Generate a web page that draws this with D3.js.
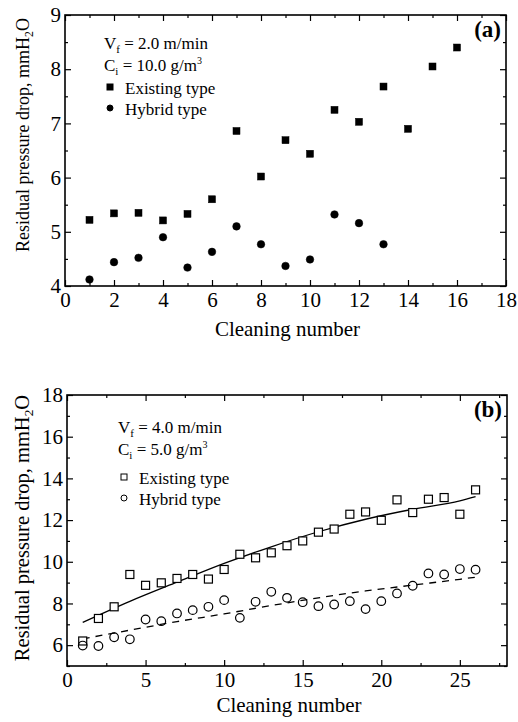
<!DOCTYPE html>
<html>
<head>
<meta charset="utf-8">
<script src="https://cdn.jsdelivr.net/npm/d3@7/dist/d3.min.js"></script>
<style>
  body { margin: 0; background: #fff; }
  svg { display: block; font-family: "Liberation Serif", "Times New Roman", serif; }
</style>
</head>
<body>
<svg></svg>
<script>
// ---- data, panel (a) ----
const cyclesA_existing = [1, 2, 3, 4, 5, 6, 7, 8, 9, 10, 11, 12, 13, 14, 15, 16];
const existingA = [5.22, 5.34, 5.35, 5.21, 5.33, 5.60, 6.86, 6.02, 6.69, 6.44, 7.25, 7.03, 7.68, 6.90, 8.05, 8.40];
const cyclesA_hybrid = [1, 2, 3, 4, 5, 6, 7, 8, 9, 10, 11, 12, 13];
const hybridA = [4.12, 4.44, 4.52, 4.90, 4.34, 4.63, 5.10, 4.77, 4.37, 4.49, 5.32, 5.16, 4.77];
const xTicksA = [0, 2, 4, 6, 8, 10, 12, 14, 16, 18];
const yTicksA = [4, 5, 6, 7, 8, 9];

// ---- data, panel (b) ----
const cyclesB = [1, 2, 3, 4, 5, 6, 7, 8, 9, 10, 11, 12, 13, 14, 15, 16, 17, 18, 19, 20, 21, 22, 23, 24, 25, 26];
const existingB = [6.20, 7.28, 7.84, 9.39, 8.87, 8.99, 9.20, 9.39, 9.17, 9.63, 10.36, 10.19, 10.43,
                   10.77, 11.00, 11.42, 11.57, 12.28, 12.39, 11.99, 12.97, 12.36, 13.00, 13.08, 12.28, 13.45];
const hybridB = [5.98, 5.96, 6.38, 6.28, 7.23, 7.15, 7.52, 7.68, 7.84, 8.16, 7.31, 8.08, 8.56,
                 8.27, 8.06, 7.87, 7.95, 8.11, 7.73, 8.11, 8.48, 8.85, 9.44, 9.39, 9.65, 9.62];
// fitted trend lines
const fitX = [1, 4, 7, 10, 13, 16, 19, 22, 25, 26];
const fitExisting = [7.09, 8.10, 9.02, 9.92, 10.72, 11.44, 12.04, 12.52, 12.92, 13.12];
const fitHybrid = [6.30, 6.72, 7.13, 7.50, 7.90, 8.27, 8.60, 8.88, 9.16, 9.26];
const xTicksB = [0, 5, 10, 15, 20, 25];
const yTicksB = [6, 8, 10, 12, 14, 16, 18];

const width = 518, height = 722;
const svg = d3.select("svg").attr("width", width).attr("height", height);

function panel(o) {
  const g = svg.append("g");
  const x = d3.scaleLinear().domain(o.xDomain).range([o.left, o.right]);
  const y = d3.scaleLinear().domain(o.yDomain).range([o.bottom, o.top]);
  const fmt = d3.format("d");

  const style = (sel) => sel
    .attr("font-family", "Liberation Serif")
    .attr("font-size", 21)
    .call(s => s.select(".domain").remove())
    .call(s => s.selectAll(".tick line").attr("stroke-width", 1.2));

  // minor ticks (all four sides, inward)
  g.append("g").attr("transform", `translate(0,${o.bottom})`)
    .call(d3.axisBottom(x).tickValues(o.xMinor).tickSize(-3).tickFormat("")).call(style);
  g.append("g").attr("transform", `translate(0,${o.top})`)
    .call(d3.axisTop(x).tickValues(o.xMinor).tickSize(-3).tickFormat("")).call(style);
  g.append("g").attr("transform", `translate(${o.left},0)`)
    .call(d3.axisLeft(y).tickValues(o.yMinor).tickSize(-3).tickFormat("")).call(style);
  g.append("g").attr("transform", `translate(${o.right},0)`)
    .call(d3.axisRight(y).tickValues(o.yMinor).tickSize(-3).tickFormat("")).call(style);

  // major ticks
  g.append("g").attr("transform", `translate(0,${o.bottom})`)
    .call(d3.axisBottom(x).tickValues(o.xTicks).tickSize(-6).tickPadding(6).tickFormat(fmt)).call(style);
  g.append("g").attr("transform", `translate(0,${o.top})`)
    .call(d3.axisTop(x).tickValues(o.xTicks).tickSize(-6).tickFormat("")).call(style);
  g.append("g").attr("transform", `translate(${o.left},0)`)
    .call(d3.axisLeft(y).tickValues(o.yTicks).tickSize(-6).tickPadding(4).tickFormat(fmt)).call(style);
  g.append("g").attr("transform", `translate(${o.right},0)`)
    .call(d3.axisRight(y).tickValues(o.yTicks).tickSize(-6).tickFormat("")).call(style);

  // frame
  g.append("rect")
    .attr("x", o.left).attr("y", o.top)
    .attr("width", o.right - o.left).attr("height", o.bottom - o.top)
    .attr("fill", "none").attr("stroke", "#000").attr("stroke-width", 1.6);

  // fitted lines
  const line = d3.line().x(d => x(d[0])).y(d => y(d[1])).curve(d3.curveMonotoneX);
  (o.fits || []).forEach(f => {
    g.append("path")
      .datum(f.xs.map((v, i) => [v, f.ys[i]]))
      .attr("d", line)
      .attr("fill", "none").attr("stroke", "#000").attr("stroke-width", 1.3)
      .attr("stroke-dasharray", f.dash || null);
  });

  // markers
  const fill = o.filled ? "#000" : "#fff";
  const sq = o.filled ? 7 : 8;
  g.append("g").selectAll("rect")
    .data(o.existX.map((v, i) => [v, o.existY[i]]))
    .join("rect")
    .attr("x", d => x(d[0]) - sq / 2).attr("y", d => y(d[1]) - sq / 2)
    .attr("width", sq).attr("height", sq)
    .attr("fill", fill).attr("stroke", "#000").attr("stroke-width", o.filled ? 0.5 : 1.2);
  g.append("g").selectAll("circle")
    .data(o.hybX.map((v, i) => [v, o.hybY[i]]))
    .join("circle")
    .attr("cx", d => x(d[0])).attr("cy", d => y(d[1]))
    .attr("r", o.filled ? 3.8 : 4.3)
    .attr("fill", o.filled ? "#000" : "none").attr("stroke", "#000").attr("stroke-width", o.filled ? 0.5 : 1.2);

  // axis titles
  g.append("text")
    .attr("x", (o.left + o.right) / 2 + 2).attr("y", o.bottom + o.xlabelOffset)
    .attr("text-anchor", "middle").attr("font-size", 21)
    .text("Cleaning number");
  const yl = g.append("text")
    .attr("transform", `translate(29,${o.ylabelY}) rotate(-90)`)
    .attr("text-anchor", "middle").attr("font-size", o.ylabelSize);
  yl.append("tspan").text("Residual pressure drop, mmH");
  yl.append("tspan").attr("dy", 4).attr("font-size", o.ylabelSize * 0.65).text("2");
  yl.append("tspan").attr("dy", -4).text("O");

  // panel tag
  g.append("text")
    .attr("x", o.right - 5).attr("y", o.top + 22)
    .attr("text-anchor", "end").attr("font-weight", "bold").attr("font-size", 23)
    .text(o.tag);

  // legend / conditions
  const lx = o.legendX, ly = o.legendY, fs = 17;
  const t1 = g.append("text").attr("x", lx).attr("y", ly).attr("font-size", fs);
  t1.append("tspan").text("V");
  t1.append("tspan").attr("dy", 4).attr("font-size", 11).text("f");
  t1.append("tspan").attr("dy", -4).text(" = " + o.velocity);
  const t2 = g.append("text").attr("x", lx).attr("y", ly + 22).attr("font-size", fs);
  t2.append("tspan").text("C");
  t2.append("tspan").attr("dy", 4).attr("font-size", 11).text("i");
  t2.append("tspan").attr("dy", -4).text(" = " + o.conc);
  t2.append("tspan").attr("dy", -7).attr("font-size", 10).text("3");

  const rows = [["Existing type", "sq"], ["Hybrid type", "ci"]];
  rows.forEach((r, i) => {
    const yy = ly + o.legendGap + i * 20.5;
    if (r[1] === "sq") {
      g.append("rect").attr("x", lx + 3).attr("y", yy - 10).attr("width", 6).attr("height", 6)
        .attr("fill", o.filled ? "#000" : "#fff").attr("stroke", "#000").attr("stroke-width", 1);
    } else {
      g.append("circle").attr("cx", lx + 6).attr("cy", yy - 6.5).attr("r", 3)
        .attr("fill", o.filled ? "#000" : "none").attr("stroke", "#000").attr("stroke-width", 1);
    }
    g.append("text").attr("x", lx + 21).attr("y", yy).attr("font-size", fs).text(r[0]);
  });
}

panel({
  tag: "(a)", filled: true,
  left: 65, right: 506, top: 15, bottom: 286,
  xDomain: [0, 18], yDomain: [4, 9],
  xTicks: xTicksA, yTicks: yTicksA,
  xMinor: [1, 3, 5, 7, 9, 11, 13, 15, 17], yMinor: [4.5, 5.5, 6.5, 7.5, 8.5],
  existX: cyclesA_existing, existY: existingA,
  hybX: cyclesA_hybrid, hybY: hybridA,
  xlabelOffset: 50,
  ylabelY: 135, ylabelSize: 18,
  legendX: 104, legendY: 49, legendGap: 45,
  velocity: "2.0 m/min", conc: "10.0 g/m"
});

panel({
  tag: "(b)", filled: false,
  left: 67, right: 507, top: 395, bottom: 666,
  xDomain: [0, 28], yDomain: [5, 18],
  xTicks: xTicksB, yTicks: yTicksB,
  xMinor: [2.5, 7.5, 12.5, 17.5, 22.5, 27.5], yMinor: [5, 7, 9, 11, 13, 15, 17],
  existX: cyclesB, existY: existingB,
  hybX: cyclesB, hybY: hybridB,
  fits: [
    { xs: fitX, ys: fitExisting },
    { xs: fitX, ys: fitHybrid, dash: "7,6" }
  ],
  xlabelOffset: 46,
  ylabelY: 528, ylabelSize: 20.5,
  legendX: 118, legendY: 433, legendGap: 51,
  velocity: "4.0 m/min", conc: "5.0 g/m"
});
</script>
</body>
</html>
